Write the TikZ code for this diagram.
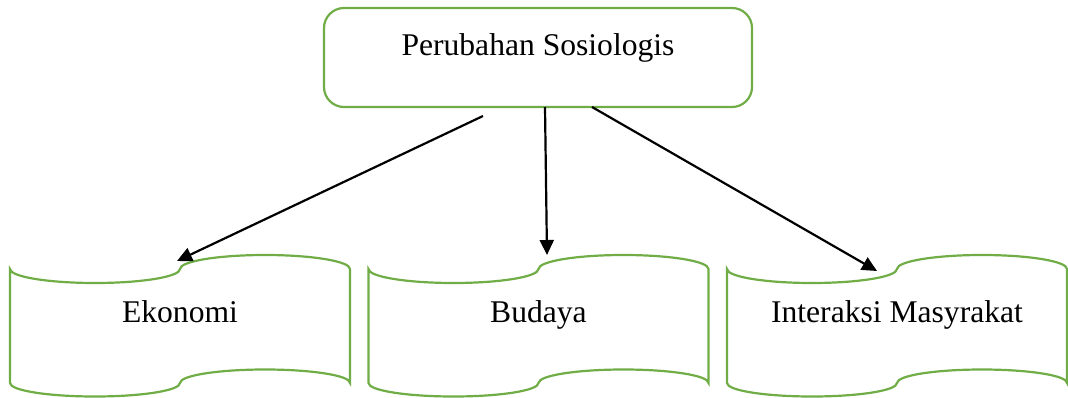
\documentclass[tikz,border=0pt]{standalone}
\usepackage{fontspec}
\setmainfont{Liberation Serif}
\usetikzlibrary{arrows.meta}
\definecolor{wordgreen}{RGB}{112,173,71}
\tikzset{
  boxline/.style={draw=wordgreen, line width=2.2bp},
  topbox/.style={boxline, rounded corners=20bp, minimum width=428bp, minimum height=99bp,
    inner sep=0pt, outer sep=0pt, text height=22bp, text depth=27bp,
    font=\fontsize{31.6bp}{38bp}\selectfont},
  tapebox/.style={minimum width=340bp, minimum height=114bp, inner sep=0pt, outer sep=0pt,
    text height=20bp, text depth=28bp, font=\fontsize{31.6bp}{38bp}\selectfont},
  conn/.style={line width=2.2bp, -{Triangle[length=15bp,width=14bp]}}
}
\newcommand\tapeoutline[1]{%
  \draw[boxline] (#1.north west)
    arc[start angle=180, end angle=360, x radius=85bp, y radius=14bp]
    arc[start angle=180, end angle=0, x radius=85bp, y radius=14bp]
    -- (#1.south east)
    arc[start angle=0, end angle=180, x radius=85bp, y radius=13.5bp]
    arc[start angle=0, end angle=-180, x radius=85bp, y radius=13.5bp]
    -- cycle;}
\begin{document}
\begin{tikzpicture}[x=1bp,y=1bp]
\useasboundingbox (0,0) rectangle (1068,397);
\node[topbox] (top) at (538,339.5) {Perubahan Sosiologis};
\node[tapebox] (eko) at (180,71) {Ekonomi};
\node[tapebox] (bud) at (538.5,71) {Budaya};
\node[tapebox] (int) at (897,71) {Interaksi Masyrakat};
\tapeoutline{eko}
\tapeoutline{bud}
\tapeoutline{int}
\coordinate (s1) at (483,281);
\coordinate (s2) at (545,290);
\coordinate (s3) at (592,290);
\coordinate (t1) at (177,136);
\coordinate (t2) at (547,142);
\coordinate (t3) at (877,126);
\draw[conn] (s1) -- (t1);
\draw[conn] (s2) -- (t2);
\draw[conn] (s3) -- (t3);
\end{tikzpicture}
\end{document}
